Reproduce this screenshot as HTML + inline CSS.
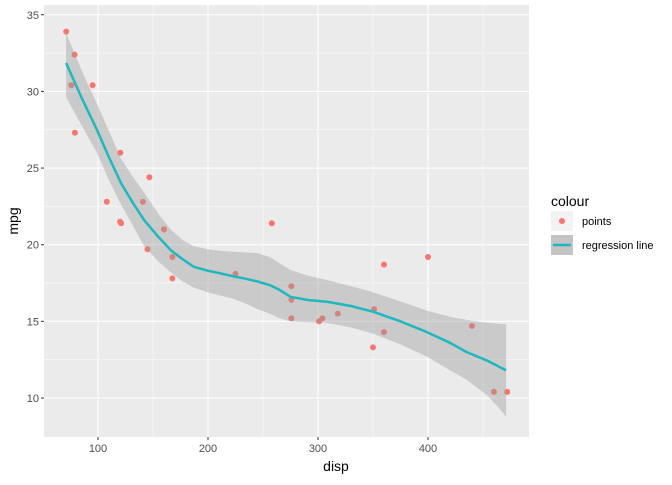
<!DOCTYPE html>
<html><head><meta charset="utf-8"><style>
body{margin:0;background:#fff;font-family:"Liberation Sans",Arial,sans-serif}
svg text{font-family:"Liberation Sans",Arial,sans-serif}
</style></head><body>
<svg id="chart" width="672" height="480">
<rect x="44" y="5" width="485" height="432" fill="#ebebeb"/>
<g id="grid"></g>
<g id="pts"></g>
<g id="band"></g>
<g id="line"></g>
<g id="axes"></g>
<text x="336" y="471" text-anchor="middle" font-size="14" fill="#000">disp</text>
<text transform="translate(18,221) rotate(-90)" text-anchor="middle" font-size="14" fill="#000">mpg</text>
<g>
<text x="551" y="206" font-size="14" fill="#000">colour</text>
<g>
<rect x="551" y="211" width="22" height="20" fill="#f2f2f2"/>
<circle cx="562" cy="221" r="3" fill="#f8766d"/>
<text x="582" y="225" font-size="11" fill="#000">points</text></g>
<g>
<rect x="551" y="235" width="22" height="20" fill="#c4c4c4"/>
<line x1="553" y1="245" x2="571" y2="245" stroke="#1fb8bc" stroke-width="2.5"/>
<text x="582" y="249" font-size="11" fill="#000">regression line</text></g>
</g>
</svg>
<script>
const dispVals=[160,160,108,258,360,225,360,146.7,140.8,167.6,167.6,275.8,275.8,275.8,472,460,440,78.7,75.7,71.1,120.1,318,304,350,400,79,120.3,95.1,351,145,301,121];
const mpgVals=[21,21,22.8,21.4,18.7,18.1,14.3,24.4,22.8,19.2,17.8,16.4,17.3,15.2,10.4,10.4,14.7,32.4,30.4,33.9,21.5,15.5,15.2,13.3,19.2,27.3,26,30.4,15.8,19.7,15,21.4];
const fitX=[71,85,99,110,121,132,142,155,166,177,187,200,210,222,233,245,256,265,275,290,308,330,350,375,399,420,435,455,471];
const fitY=[31.85,29.6,27.5,25.7,24.0,22.7,21.6,20.5,19.65,19.05,18.56,18.3,18.15,17.95,17.8,17.6,17.37,17.05,16.6,16.4,16.28,16.0,15.63,15.0,14.3,13.6,13.0,12.4,11.8];
const fitHi=[33.8,31.4,29.2,27.4,25.6,24.4,23.4,22.0,21.0,20.3,19.9,19.7,19.6,19.55,19.5,19.45,19.2,18.8,18.35,18.0,17.7,17.3,16.9,16.3,15.7,15.3,15.1,14.9,14.8];
const fitLo=[29.6,27.8,26.0,24.2,22.6,21.2,19.9,18.9,18.2,17.6,17.2,16.9,16.7,16.5,16.2,15.8,15.5,15.2,15.0,14.95,14.9,14.6,14.2,13.5,12.7,11.8,11.2,10.1,8.8];
const xTicks=[100,200,300,400];
const yTicks=[10,15,20,25,30,35];
const X=v=>98+(v-100)*1.1;
const Y=v=>398-(v-10)*15.33;
const NS="http://www.w3.org/2000/svg";
function mk(p,t,a){const e=document.createElementNS(NS,t);for(const k in a)e.setAttribute(k,a[k]);document.getElementById(p).appendChild(e);return e;}
[50,150,250,350,450].forEach(v=>{const e=mk('grid','line',{x1:X(v),x2:X(v),y1:5,y2:437,stroke:'#fff','stroke-width':0.5});

});
[12.5,17.5,22.5,27.5,32.5].forEach(v=>{const e=mk('grid','line',{x1:44,x2:529,y1:Y(v),y2:Y(v),stroke:'#fff','stroke-width':0.5});

});
xTicks.forEach(v=>{const e=mk('grid','line',{x1:X(v),x2:X(v),y1:5,y2:437,stroke:'#fff','stroke-width':1.1});


const k=mk('axes','line',{x1:X(v),x2:X(v),y1:437,y2:440,stroke:'#333','stroke-width':1});


const t=mk('axes','text',{x:X(v),y:452,'text-anchor':'middle','font-size':11,fill:'#4d4d4d'});t.textContent=v;

});
yTicks.forEach(v=>{const e=mk('grid','line',{x1:44,x2:529,y1:Y(v),y2:Y(v),stroke:'#fff','stroke-width':1.1});


const k=mk('axes','line',{x1:41,x2:44,y1:Y(v),y2:Y(v),stroke:'#333','stroke-width':1});


const t=mk('axes','text',{x:39,y:Y(v)+4,'text-anchor':'end','font-size':11,fill:'#4d4d4d'});t.textContent=v;

});
dispVals.forEach((x,i)=>{const c=mk('pts','circle',{cx:X(x),cy:Y(mpgVals[i]),r:3,fill:'#f8766d'});

});
let d=fitX.map((x,i)=>(i?'L':'M')+X(x)+','+Y(fitHi[i])).join('');
for(let i=fitX.length-1;i>=0;i--)d+='L'+X(fitX[i])+','+Y(fitLo[i]);
const b=mk('band','path',{d:d+'Z',fill:'#999','fill-opacity':0.4});


const l=mk('line','path',{d:fitX.map((x,i)=>(i?'L':'M')+X(x)+','+Y(fitY[i])).join(''),fill:'none',stroke:'#1fb8bc','stroke-width':2.5,'stroke-linejoin':'round'});


</script>
</body></html>
